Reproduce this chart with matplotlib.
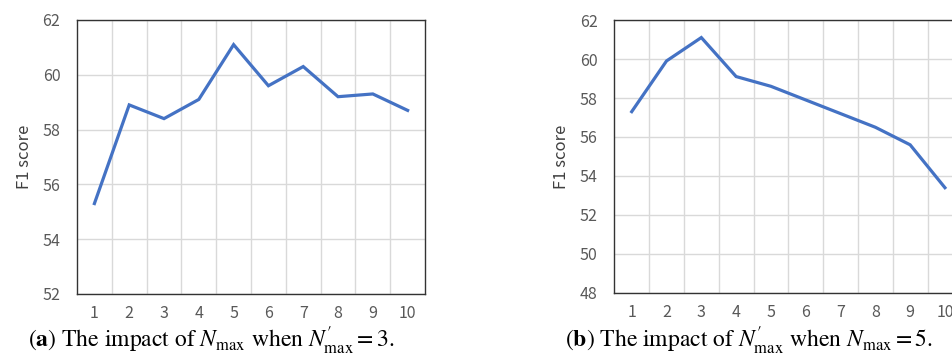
import matplotlib
matplotlib.use("Agg")
import matplotlib.pyplot as plt

# data
k_values = [1, 2, 3, 4, 5, 6, 7, 8, 9, 10]
f1_nmax = [55.3, 58.9, 58.4, 59.1, 61.1, 59.6, 60.3, 59.2, 59.3, 58.7]      # (a) vary N_max, N'_max = 3
f1_nmax_prime = [57.3, 59.9, 61.1, 59.1, 58.6, 57.9, 57.2, 56.5, 55.6, 53.4]  # (b) vary N'_max, N_max = 5
yticks_a = [52, 54, 56, 58, 60, 62]
yticks_b = [48, 50, 52, 54, 56, 58, 60, 62]

captions = [
    r"($\mathbf{a}$) The impact of $N_{\mathrm{max}}$ when $N_{\mathrm{max}}^{\prime} = 3$.",
    r"($\mathbf{b}$) The impact of $N_{\mathrm{max}}^{\prime}$ when $N_{\mathrm{max}} = 5$.",
]

plt.rcParams['font.family'] = ['Noto Sans CJK SC', 'DejaVu Sans']
plt.rcParams['mathtext.fontset'] = 'stix'

fig = plt.figure(figsize=(9.53, 3.56), dpi=100)

line_color = '#4472C4'
grid_color = '#D9D9D9'
text_color = '#595959'


def draw_panel(rect, values, yticks):
    ax = fig.add_axes(rect)
    ax.plot(k_values, values, color=line_color, linewidth=2.3, solid_joinstyle='miter', zorder=3)
    ax.set_xlim(0.5, 10.5)
    ax.set_ylim(yticks[0], yticks[-1])
    ax.set_yticks(yticks)
    ax.set_xticks(k_values)
    # vertical gridlines sit between categories (Excel category axis)
    ax.set_xticks([k + 0.5 for k in k_values[:-1]], minor=True)
    ax.grid(True, which='minor', axis='x', color=grid_color, linewidth=1)
    ax.grid(True, which='major', axis='y', color=grid_color, linewidth=1)
    ax.set_axisbelow(True)
    ax.tick_params(which='both', length=0)
    ax.tick_params(axis='y', pad=12, labelsize=11.5, labelcolor=text_color)
    ax.tick_params(axis='x', pad=8, labelsize=11.5, labelcolor=text_color)
    for s in ax.spines.values():
        s.set_color('#333333')
        s.set_linewidth(1.0)
    ax.set_ylabel('F1 score', fontsize=12, color='#404040', labelpad=7)
    return ax


ax_a = draw_panel([0.0808, 0.1742, 0.3652, 0.7697], f1_nmax, yticks_a)
ax_b = draw_panel([0.6446, 0.177, 0.3652, 0.7668], f1_nmax_prime, yticks_b)

fig.text(28 / 953, 1 - 341 / 356, captions[0], fontsize=17, family='STIXGeneral',
         ha='left', va='center')
fig.text(565 / 953, 1 - 341 / 356, captions[1], fontsize=17, family='STIXGeneral',
         ha='left', va='center')

fig.savefig('out.png', dpi=100)
